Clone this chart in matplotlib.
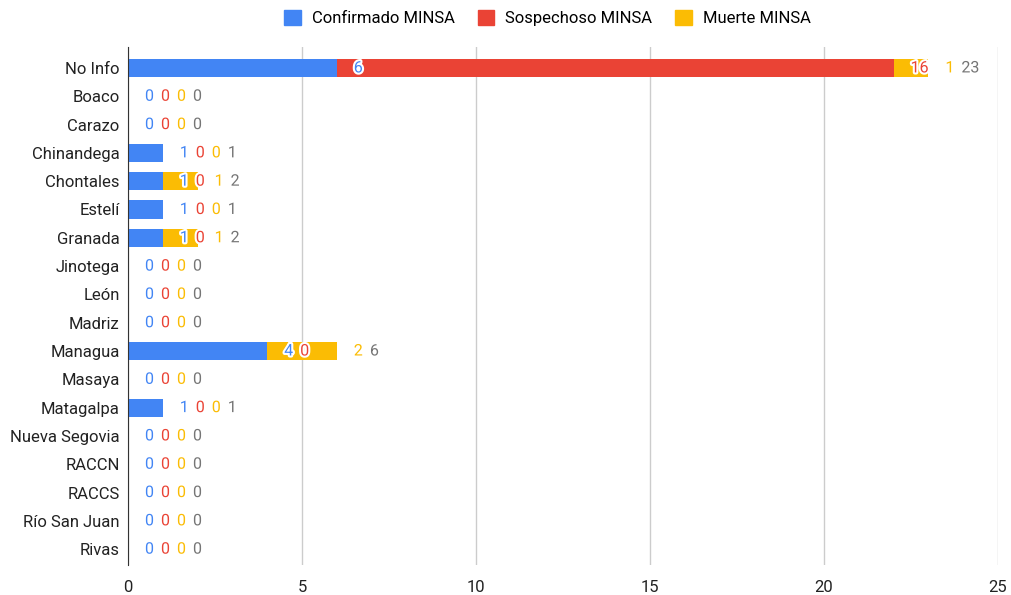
import matplotlib
matplotlib.use("Agg")
import matplotlib.pyplot as plt
import matplotlib.patheffects as pe
from matplotlib.patches import Patch
import numpy as np

categories = ["No Info", "Boaco", "Carazo", "Chinandega", "Chontales", "Estelí",
              "Granada", "Jinotega", "León", "Madriz", "Managua", "Masaya",
              "Matagalpa", "Nueva Segovia", "RACCN", "RACCS", "Río San Juan", "Rivas"]
confirmado = [6, 0, 0, 1, 1, 1, 1, 0, 0, 0, 4, 0, 1, 0, 0, 0, 0, 0]
sospechoso = [16, 0, 0, 0, 0, 0, 0, 0, 0, 0, 0, 0, 0, 0, 0, 0, 0, 0]
muerte = [1, 0, 0, 0, 1, 0, 1, 0, 0, 0, 2, 0, 0, 0, 0, 0, 0, 0]
series_names = ["Confirmado MINSA", "Sospechoso MINSA", "Muerte MINSA"]
colors = ["#4285F4", "#EA4335", "#FBBC04"]
total_color = "#757575"
xticks = [0, 5, 10, 15, 20, 25]

plt.rcParams['font.family'] = ['Roboto', 'DejaVu Sans']

fig = plt.figure(figsize=(10.11, 5.95), dpi=100)
ax = fig.add_axes([128/1011, 1-565/595, 870/1011, 518/595])

y = np.arange(len(categories))
series = [confirmado, sospechoso, muerte]
left = np.zeros(len(categories))
ends = []
for vals, col, name in zip(series, colors, series_names):
    ax.barh(y, vals, left=left, color=col, height=0.64, label=name, zorder=2)
    left = left + np.array(vals)
    ends.append(left.copy())
totals = left

ax.set_xlim(0, 25)
ax.set_ylim(17.56, -0.74)
ax.set_xticks(xticks)
ax.set_xticklabels([str(t) for t in xticks])
ax.set_yticks(y)
ax.set_yticklabels(categories)
ax.tick_params(axis='both', length=0, labelsize=12, colors="#222222")
ax.tick_params(axis='x', pad=11)
ax.tick_params(axis='y', pad=6)
ax.grid(axis='x', color="#cccccc", linewidth=1, zorder=0)
for s in ["top", "right", "bottom"]:
    ax.spines[s].set_visible(False)
ax.spines["left"].set_color("#333333")
ax.spines["left"].set_zorder(3)

fig.canvas.draw()
renderer = fig.canvas.get_renderer()
stroke = [pe.withStroke(linewidth=3, foreground="white")]
for i in range(len(categories)):
    prev_right = -1e9
    items = [(series[k][i], ends[k][i], colors[k]) for k in range(3)]
    items.append((totals[i], totals[i], total_color))
    for k, (v, end, col) in enumerate(items):
        px_end = ax.transData.transform((end, i))[0]
        if k < 3:
            lft = max(px_end + 17, prev_right + 7)
        else:
            lft = prev_right + 7
        t = ax.annotate(str(int(v)), xy=(end, i), xytext=(lft - px_end, 0),
                        textcoords='offset pixels', ha='left', va='center',
                        fontsize=11.5, color=col, zorder=4, path_effects=stroke,
                        annotation_clip=False)
        bb = t.get_window_extent(renderer)
        prev_right = bb.x1

handles = [Patch(facecolor=c, edgecolor=c) for c in colors]
fig.legend(handles, series_names, loc='center', bbox_to_anchor=(547.5/1011, 1-18/595),
           ncol=3, frameon=False, fontsize=12, handlelength=1.0, handleheight=1.0,
           columnspacing=1.38, handletextpad=0.66)

fig.savefig("out.png", dpi=100)
